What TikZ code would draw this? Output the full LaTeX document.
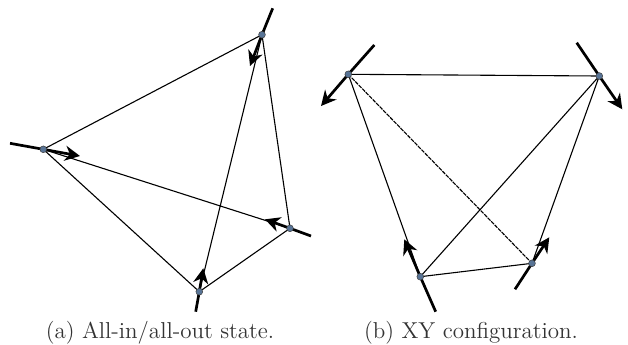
\documentclass[tikz,border=0pt]{standalone}
\usetikzlibrary{arrows.meta}
\definecolor{atomfill}{RGB}{88,116,150}
\definecolor{capcol}{gray}{0.2}
\tikzset{
  atom/.style={circle,draw=black!75,line width=0.25pt,fill=atomfill,inner sep=0pt,minimum size=3.4pt},
  bond/.style={line width=0.55pt,black},
  spintail/.style={line width=1.35pt,black},
  spinarrow/.style={line width=1.35pt,black,-{Stealth[length=7.5pt,width=7.5pt,inset=2.4pt]}},
  captext/.style={inner sep=0pt,font=\fontsize{11.5}{14}\selectfont,text=capcol}
}
\begin{document}
\begin{tikzpicture}[x=0.5pt,y=-0.5pt]
\useasboundingbox (0,0) rectangle (628,344);
% left
\coordinate (at) at (272.7,8.3);
\coordinate (aa) at (250,66);
\coordinate (bt) at (10,143.3);
\coordinate (ba) at (80,156);
\coordinate (ct) at (311,236);
\coordinate (ca) at (265,219.3);
\coordinate (dt) at (195.7,311.7);
\coordinate (da) at (203.3,268.3);
\coordinate (A) at (262,34.7);
\coordinate (B) at (43.3,149.3);
\coordinate (C) at (290,228.3);
\coordinate (D) at (199.3,291.7);
\draw[bond] (A)--(B) (A)--(C) (A)--(D) (B)--(C) (B)--(D) (C)--(D);
\draw[spintail] (at)--(A); \draw[spinarrow] (A)--(aa);
\draw[spintail] (bt)--(B); \draw[spinarrow] (B)--(ba);
\draw[spintail] (ct)--(C); \draw[spinarrow] (C)--(ca);
\draw[spintail] (dt)--(D); \draw[spinarrow] (D)--(da);
\node[atom] (nA) at (A) {};
\node[atom] (nB) at (B) {};
\node[atom] (nC) at (C) {};
\node[atom] (nD) at (D) {};
% right
\coordinate (et) at (374.3,45);
\coordinate (ea) at (321,106);
\coordinate (ft) at (576.7,42.7);
\coordinate (fa) at (622.3,109.3);
\coordinate (gt) at (435.7,311.7);
\coordinate (ga) at (404.3,239.3);
\coordinate (ht) at (515,289.3);
\coordinate (ha) at (549.3,237.3);
\coordinate (E) at (348.3,74.3);
\coordinate (F) at (599.3,76);
\coordinate (G) at (420.3,276.7);
\coordinate (H) at (532,263.3);
\draw[bond] (E)--(F) (E)--(G) (F)--(G) (F)--(H) (G)--(H);
\draw[bond,dash pattern=on 2pt off 0.5pt] (E)--(H);
\draw[spintail] (et)--(E); \draw[spinarrow] (E)--(ea);
\draw[spintail] (ft)--(F); \draw[spinarrow] (F)--(fa);
\draw[spintail] (gt)--(G); \draw[spinarrow] (G)--(ga);
\draw[spintail] (ht)--(H); \draw[spinarrow] (H)--(ha);
\node[atom] (nE) at (E) {};
\node[atom] (nF) at (F) {};
\node[atom] (nG) at (G) {};
\node[atom] (nH) at (H) {};
\node[captext] (capa) at (160,333) {(a) All-in/all-out state.};
\node[captext] (capb) at (471,333) {(b) XY configuration.};
\end{tikzpicture}
\end{document}
